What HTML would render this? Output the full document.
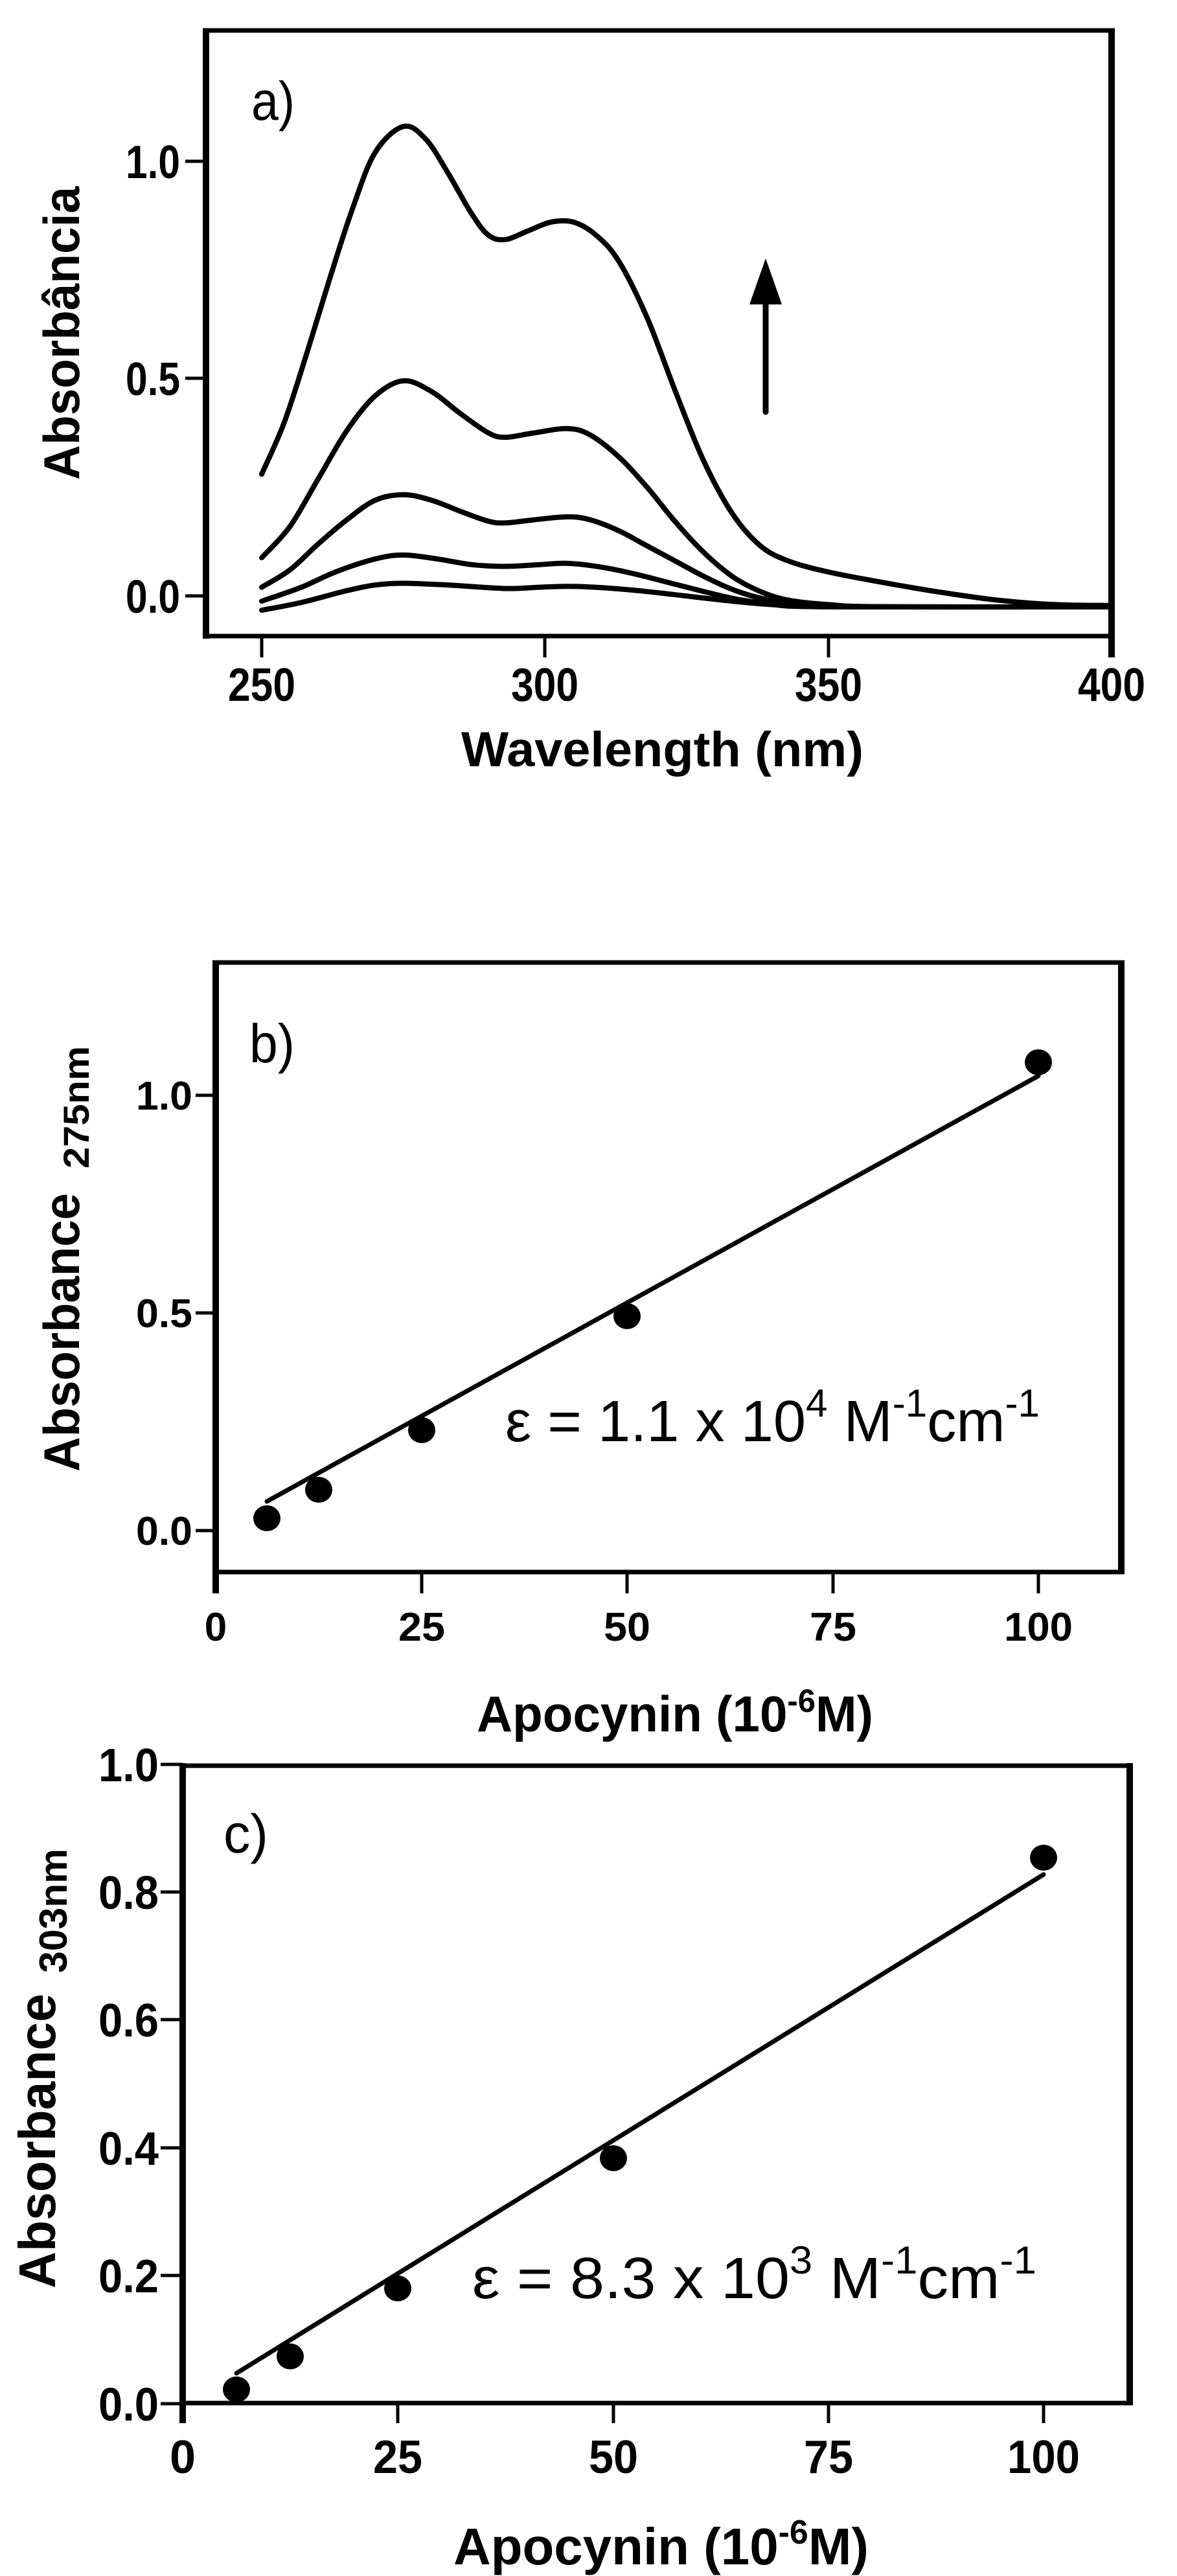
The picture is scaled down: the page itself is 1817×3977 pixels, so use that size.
<!DOCTYPE html>
<html><head><meta charset="utf-8"><style>
html,body{margin:0;padding:0;background:#fff;}
svg{display:block;}
text{font-family:"Liberation Sans",Arial,sans-serif;fill:#000;}
.t{font-weight:bold;}
</style></head><body>
<svg id="s" width="1817" height="3977" viewBox="0 0 1817 3977" xmlns="http://www.w3.org/2000/svg">
<rect width="1817" height="3977" fill="#fff"/>
<g fill="none" stroke="#000">
<!-- Chart a frame -->
<line x1="313" y1="47" x2="1721" y2="47" stroke-width="7"/>
<line x1="313" y1="982" x2="1721" y2="982" stroke-width="7"/>
<line x1="318" y1="44" x2="318" y2="986" stroke-width="10"/>
<line x1="1716" y1="44" x2="1716" y2="1015" stroke-width="10"/>
<g stroke-width="5">
<line x1="286" y1="249" x2="318" y2="249"/><line x1="286" y1="584" x2="318" y2="584"/><line x1="286" y1="920" x2="318" y2="920"/>
<line x1="404" y1="982" x2="404" y2="1015"/><line x1="841" y1="982" x2="841" y2="1015"/><line x1="1279" y1="982" x2="1279" y2="1015"/>
</g>
<g id="curves" stroke-width="8" stroke-linecap="round" stroke-linejoin="round"></g>
<line x1="1182" y1="636" x2="1182" y2="455" stroke-width="9" stroke-linecap="round"/>

<!-- Chart b frame -->
<line x1="328" y1="1486" x2="1736" y2="1486" stroke-width="7"/>
<line x1="328" y1="2427" x2="1736" y2="2427" stroke-width="7"/>
<line x1="333" y1="1484" x2="333" y2="2460" stroke-width="10"/>
<line x1="1731" y1="1484" x2="1731" y2="2430" stroke-width="10"/>
<g stroke-width="5">
<line x1="302" y1="1691" x2="333" y2="1691"/><line x1="302" y1="2027" x2="333" y2="2027"/><line x1="302" y1="2363" x2="333" y2="2363"/>
<line x1="651" y1="2427" x2="651" y2="2460"/><line x1="968" y1="2427" x2="968" y2="2460"/><line x1="1286" y1="2427" x2="1286" y2="2460"/><line x1="1603" y1="2427" x2="1603" y2="2460"/>
</g>
<line x1="412" y1="2318" x2="1603" y2="1661" stroke-width="7" stroke-linecap="round"/>

<!-- Chart c frame -->
<line x1="277" y1="2726" x2="1749" y2="2726" stroke-width="7"/>
<line x1="277" y1="3710" x2="1749" y2="3710" stroke-width="7"/>
<line x1="282" y1="2722" x2="282" y2="3741" stroke-width="10"/>
<line x1="1744" y1="2722" x2="1744" y2="3713" stroke-width="10"/>
<g stroke-width="5">
<line x1="248" y1="2724" x2="282" y2="2724"/><line x1="248" y1="2921" x2="282" y2="2921"/><line x1="248" y1="3118" x2="282" y2="3118"/><line x1="248" y1="3316" x2="282" y2="3316"/><line x1="248" y1="3513" x2="282" y2="3513"/><line x1="248" y1="3711" x2="282" y2="3711"/>
<line x1="614" y1="3710" x2="614" y2="3741"/><line x1="947" y1="3710" x2="947" y2="3741"/><line x1="1279" y1="3710" x2="1279" y2="3741"/><line x1="1611" y1="3710" x2="1611" y2="3741"/>
</g>
<line x1="365" y1="3664" x2="1611" y2="2894" stroke-width="7" stroke-linecap="round"/>
</g>
<polygon points="1182,399 1157,470 1207,470" fill="#000"/>

<g fill="#000">
<ellipse cx="412" cy="2344" rx="21" ry="20"/><ellipse cx="492" cy="2300" rx="21" ry="20"/><ellipse cx="651" cy="2208" rx="21" ry="20"/><ellipse cx="968" cy="2032" rx="21" ry="20"/><ellipse cx="1603" cy="1640" rx="21" ry="20"/>
<ellipse cx="365" cy="3689" rx="21" ry="20"/><ellipse cx="448" cy="3638" rx="21" ry="20"/><ellipse cx="614" cy="3533" rx="21" ry="20"/><ellipse cx="947" cy="3332" rx="21" ry="20"/><ellipse cx="1611" cy="2868" rx="21" ry="20"/>
</g>

<!-- Chart a text -->
<g class="t" font-size="72" text-anchor="end">
<text x="278" y="275" textLength="84" lengthAdjust="spacingAndGlyphs">1.0</text>
<text x="278" y="610" textLength="84" lengthAdjust="spacingAndGlyphs">0.5</text>
<text x="278" y="946" textLength="84" lengthAdjust="spacingAndGlyphs">0.0</text>
</g>
<g class="t" font-size="72" text-anchor="middle">
<text x="404" y="1082" textLength="104" lengthAdjust="spacingAndGlyphs">250</text>
<text x="841" y="1082" textLength="104" lengthAdjust="spacingAndGlyphs">300</text>
<text x="1279" y="1082" textLength="104" lengthAdjust="spacingAndGlyphs">350</text>
<text x="1716" y="1082" textLength="104" lengthAdjust="spacingAndGlyphs">400</text>
</g>
<text class="t" x="712" y="1183" font-size="76" textLength="621" lengthAdjust="spacingAndGlyphs">Wavelength (nm)</text>
<text class="t" transform="translate(122,741) rotate(-90)" font-size="78" textLength="453" lengthAdjust="spacingAndGlyphs">Absorbância</text>
<text x="388" y="185" font-size="84" textLength="67" lengthAdjust="spacingAndGlyphs">a)</text>

<!-- Chart b text -->
<g class="t" font-size="62" text-anchor="end">
<text x="297" y="1713" textLength="87" lengthAdjust="spacingAndGlyphs">1.0</text>
<text x="297" y="2049" textLength="87" lengthAdjust="spacingAndGlyphs">0.5</text>
<text x="297" y="2385" textLength="87" lengthAdjust="spacingAndGlyphs">0.0</text>
</g>
<g class="t" font-size="62" text-anchor="middle">
<text x="333" y="2533">0</text>
<text x="651" y="2533" textLength="72" lengthAdjust="spacingAndGlyphs">25</text>
<text x="968" y="2533" textLength="72" lengthAdjust="spacingAndGlyphs">50</text>
<text x="1286" y="2533" textLength="72" lengthAdjust="spacingAndGlyphs">75</text>
<text x="1603" y="2533" textLength="106" lengthAdjust="spacingAndGlyphs">100</text>
</g>
<text class="t" x="736" y="2673" font-size="78" textLength="612" lengthAdjust="spacingAndGlyphs">Apocynin (10<tspan font-size="50" dy="-30">-6</tspan><tspan dy="30">M)</tspan></text>
<text class="t" transform="translate(122,2272) rotate(-90)" font-size="78" textLength="430" lengthAdjust="spacingAndGlyphs">Absorbance</text>
<text class="t" transform="translate(137,1804) rotate(-90)" font-size="56" textLength="189" lengthAdjust="spacingAndGlyphs">275nm</text>
<text x="385" y="1640" font-size="84" textLength="70" lengthAdjust="spacingAndGlyphs">b)</text>
<text x="780" y="2225" font-size="90" textLength="825" lengthAdjust="spacingAndGlyphs">ε = 1.1 x 10<tspan font-size="60" dy="-38">4</tspan><tspan dy="38"> M</tspan><tspan font-size="60" dy="-38">-1</tspan><tspan dy="38">cm</tspan><tspan font-size="60" dy="-38">-1</tspan></text>

<!-- Chart c text -->
<g class="t" font-size="72" text-anchor="end">
<text x="245" y="2750" textLength="93" lengthAdjust="spacingAndGlyphs">1.0</text>
<text x="245" y="2947" textLength="93" lengthAdjust="spacingAndGlyphs">0.8</text>
<text x="245" y="3144" textLength="93" lengthAdjust="spacingAndGlyphs">0.6</text>
<text x="245" y="3342" textLength="93" lengthAdjust="spacingAndGlyphs">0.4</text>
<text x="245" y="3539" textLength="93" lengthAdjust="spacingAndGlyphs">0.2</text>
<text x="245" y="3737" textLength="93" lengthAdjust="spacingAndGlyphs">0.0</text>
</g>
<g class="t" font-size="72" text-anchor="middle">
<text x="282" y="3818">0</text>
<text x="614" y="3818" textLength="76" lengthAdjust="spacingAndGlyphs">25</text>
<text x="947" y="3818" textLength="76" lengthAdjust="spacingAndGlyphs">50</text>
<text x="1279" y="3818" textLength="76" lengthAdjust="spacingAndGlyphs">75</text>
<text x="1611" y="3818" textLength="112" lengthAdjust="spacingAndGlyphs">100</text>
</g>
<text class="t" x="700" y="3959" font-size="80" textLength="641" lengthAdjust="spacingAndGlyphs">Apocynin (10<tspan font-size="52" dy="-32">-6</tspan><tspan dy="32">M)</tspan></text>
<text class="t" transform="translate(85,3533) rotate(-90)" font-size="80" textLength="455" lengthAdjust="spacingAndGlyphs">Absorbance</text>
<text class="t" transform="translate(103,3046) rotate(-90)" font-size="60" textLength="192" lengthAdjust="spacingAndGlyphs">303nm</text>
<text x="345" y="2860" font-size="84" textLength="69" lengthAdjust="spacingAndGlyphs">c)</text>
<text x="729" y="3548" font-size="90" textLength="871" lengthAdjust="spacingAndGlyphs">ε = 8.3 x 10<tspan font-size="60" dy="-38">3</tspan><tspan dy="38"> M</tspan><tspan font-size="60" dy="-38">-1</tspan><tspan dy="38">cm</tspan><tspan font-size="60" dy="-38">-1</tspan></text>
</svg>
<script>
var C=[
[[250,.28],[254,.4],[258,.56],[262,.73],[266,.89],[270,1.02],[275,1.08],[279,1.05],[283,.97],[287,.88],[290,.83],[293,.82],[297,.84],[301,.86],[305,.86],[309,.83],[313,.77],[318,.64],[323,.47],[328,.31],[333,.19],[338,.115],[343,.08],[350,.055],[360,.03],[370,.008],[380,-.01],[390,-.02],[400,-.022]],
[[250,.088],[255,.16],[260,.27],[265,.38],[270,.46],[275,.495],[280,.47],[285,.42],[290,.375],[293,.365],[298,.375],[304,.385],[308,.37],[313,.32],[318,.25],[323,.17],[328,.1],[333,.045],[338,.01],[343,-.01],[350,-.02],[360,-.025],[400,-.025]],
[[250,.02],[255,.06],[260,.12],[265,.175],[270,.22],[275,.233],[280,.22],[285,.195],[290,.172],[293,.168],[298,.175],[304,.182],[308,.175],[313,.15],[318,.115],[323,.08],[328,.045],[333,.015],[338,-.005],[345,-.02],[355,-.025],[400,-.025]],
[[250,-.012],[257,.02],[263,.055],[270,.085],[275,.094],[281,.085],[287,.072],[293,.068],[299,.072],[304,.075],[310,.066],[316,.05],[322,.03],[328,.01],[334,-.008],[340,-.018],[350,-.025],[400,-.025]],
[[250,-.033],[257,-.015],[265,.012],[270,.025],[275,.029],[283,.025],[293,.017],[299,.02],[304,.022],[310,.019],[318,.01],[326,-.002],[333,-.012],[340,-.02],[350,-.025],[400,-.025]]];
var g=document.getElementById('curves');
C.forEach(function(c){
 var p=c.map(function(d){return [404+(d[0]-250)*8.75,920-d[1]*671];});
 var s='M'+p[0][0].toFixed(1)+','+p[0][1].toFixed(1);
 for(var i=0;i<p.length-1;i++){
  var p0=p[i-1]||p[i],p1=p[i],p2=p[i+1],p3=p[i+2]||p2;
  var c1=[p1[0]+(p2[0]-p0[0])/6,p1[1]+(p2[1]-p0[1])/6],c2=[p2[0]-(p3[0]-p1[0])/6,p2[1]-(p3[1]-p1[1])/6];
  s+='C'+c1[0].toFixed(1)+','+c1[1].toFixed(1)+' '+c2[0].toFixed(1)+','+c2[1].toFixed(1)+' '+p2[0].toFixed(1)+','+p2[1].toFixed(1);
 }
 var e=document.createElementNS('http://www.w3.org/2000/svg','path');e.setAttribute('d',s);g.appendChild(e);
});
</script>
</body></html>
